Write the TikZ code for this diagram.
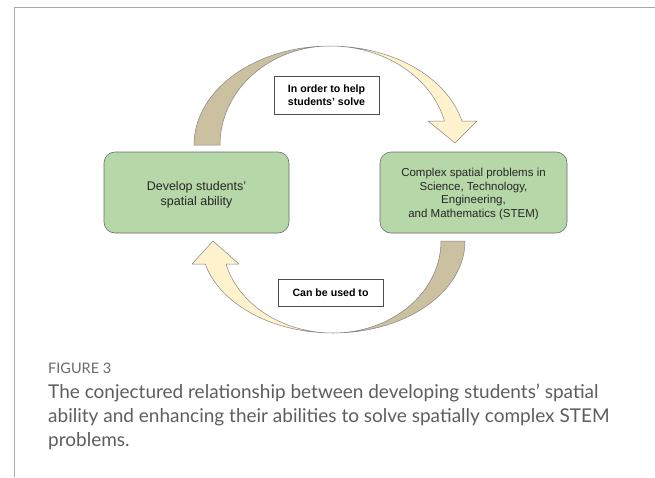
\documentclass[tikz,border=0pt]{standalone}
\usepackage{fontspec}
\setmainfont{Liberation Sans}
\newfontfamily\capfont{Lato}
\definecolor{boxgreen}{HTML}{B6D7A8}
\definecolor{boxedge}{HTML}{6E6E6E}
\definecolor{darkband}{HTML}{CBC0A0}
\definecolor{lightband}{HTML}{FFF2CC}
\definecolor{bandedge}{HTML}{858585}
\definecolor{captext}{HTML}{5E5E5E}
\definecolor{capfig}{HTML}{6A6A6A}
\definecolor{framecol}{HTML}{A8A8A8}
\tikzset{
  greenbox/.style={draw=boxedge, line width=0.6pt, fill=boxgreen, rounded corners=11pt, inner sep=0pt},
  boxtext/.style={align=center, text=black!85, inner sep=0pt},
  labelbox/.style={draw=black!70, line width=0.6pt, fill=white, align=center, inner sep=0pt, font=\fontsize{10.6}{13.5}\selectfont\bfseries},
  band/.style={draw=bandedge, line width=0.5pt, line join=round},
  capline/.style={anchor=base west, inner sep=0pt, text=captext, font=\capfont\fontsize{19}{24}\selectfont},
}
\begin{document}
\begin{tikzpicture}[x=1pt,y=-1pt]
\useasboundingbox (0,0) rectangle (655,477);
\fill[white] (0,0) rectangle (655,477);
% frame
\draw[framecol, line width=1.6pt] (14.5,477) -- (14.5,7.5) -- (655,7.5);

% top curved arrow
\filldraw[band, fill=darkband]
  plot[domain=180:90, samples=60] ({330+136*cos(\x)},{145-99*sin(\x)})
  -- plot[domain=90:180, samples=60] ({330+110*cos(\x)},{145-99*sin(\x)}) -- cycle;
\filldraw[band, fill=lightband]
  plot[domain=90:14, samples=60] ({330+136*cos(\x)},{145-99*sin(\x)})
  -- (477,121) coordinate (twr) -- (455,143) coordinate (ttip) -- (428,121) coordinate (twl)
  -- plot[domain=14:90, samples=60] ({330+118*cos(\x)},{145-99*sin(\x)}) -- cycle;

% bottom curved arrow
\filldraw[band, fill=darkband]
  plot[domain=0:90, samples=60] ({333+132*cos(\x)},{241+92*sin(\x)})
  -- plot[domain=90:0, samples=60] ({333+108*cos(\x)},{241+92*sin(\x)}) -- cycle;
\filldraw[band, fill=lightband]
  plot[domain=90:165.5, samples=60] ({333+132*cos(\x)},{241+92*sin(\x)})
  -- (192,264) coordinate (bwl) -- (213,241) coordinate (btip) -- (239,264) coordinate (bwr)
  -- plot[domain=165.5:90, samples=60] ({333+110.5*cos(\x)},{241+92*sin(\x)}) -- cycle;

% boxes
\node[greenbox, minimum width=185pt, minimum height=81pt] (dev) at (196.5,192.5) {};
\node[boxtext, font=\fontsize{12.5}{14.5}\selectfont] (devtext) at (196.5,195) {Develop students'\\spatial ability};
\node[greenbox, minimum width=187pt, minimum height=81pt] (stem) at (473.5,192.5) {};
\node[boxtext, font=\fontsize{11.5}{13.8}\selectfont] (stemtext) at (473.5,194) {Complex spatial problems in\\Science, Technology,\\Engineering,\\and Mathematics (STEM)};

% labels
\node[labelbox, minimum width=105pt, minimum height=38pt] (help) at (326.5,95) {In order to help\\students' solve};
\node[labelbox, minimum width=105pt, minimum height=27pt] (used) at (330.5,292.5) {Can be used to};

% caption
\node[anchor=base west, inner sep=0pt, text=capfig, font=\capfont\fontsize{14.5}{16}\selectfont] (fig) at (48,373) {FIGURE 3};
\node[capline] (c1) at (48,398) {The conjectured relationship between developing students’ spatial};
\node[capline] (c2) at (48,422) {ability and enhancing their abilities to solve spatially complex STEM};
\node[capline] (c3) at (48,446) {problems.};
\end{tikzpicture}
\end{document}
